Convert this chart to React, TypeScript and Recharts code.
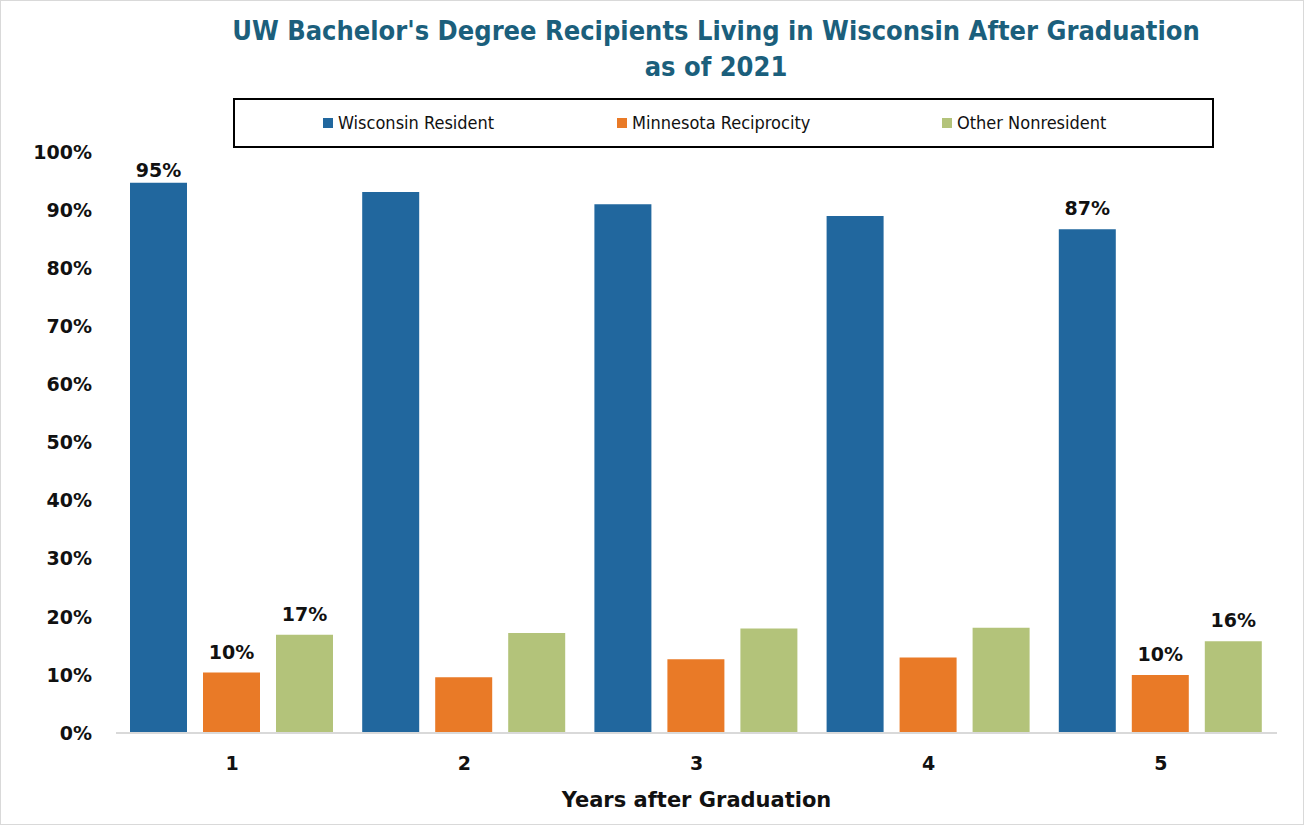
import React from "react";
import { Bar, BarChart, LabelList, Legend, XAxis, YAxis } from "recharts";

// Values, in percent.
const YEARS = ["1", "2", "3", "4", "5"];
const WI_RESIDENT = [94.7, 93.1, 91.0, 89.0, 86.7];
const MN_RECIPROCITY = [10.4, 9.6, 12.7, 13.0, 10.0];
const OTHER_NONRES = [16.9, 17.2, 18.0, 18.1, 15.8];
// Only a few bars carry a data label in the original.
const WI_LABELS = ["95%", "", "", "", "87%"];
const MN_LABELS = ["10%", "", "", "", "10%"];
const OTHER_LABELS = ["17%", "", "", "", "16%"];
const Y_TICKS = [0, 10, 20, 30, 40, 50, 60, 70, 80, 90, 100];

const SERIES = [
  { key: "wi", label: "Wisconsin Resident", color: "#21679e", labels: WI_LABELS },
  { key: "mn", label: "Minnesota Reciprocity", color: "#e97a27", labels: MN_LABELS },
  { key: "other", label: "Other Nonresident", color: "#b3c37a", labels: OTHER_LABELS },
];

const data = YEARS.map((y, i) => ({
  year: y,
  wi: WI_RESIDENT[i],
  mn: MN_RECIPROCITY[i],
  other: OTHER_NONRES[i],
}));

const FONT = "'DejaVu Sans', sans-serif";
const COND = "'DejaVu Sans Condensed', 'DejaVu Sans', sans-serif";

function makeLabel(labels: string[]) {
  return (props: any) => {
    const { x, y, width, index } = props;
    const txt = labels[index];
    if (!txt) return null;
    // labels sit a bit above the bar, but are kept inside the plot top
    const ty = Math.max(Number(y) - 14, 177);
    return (
      <text
        x={Number(x) + Number(width) / 2}
        y={ty}
        textAnchor="middle"
        fontFamily={FONT}
        fontWeight="bold"
        fontSize={19}
        fill="#111"
      >
        {txt}
      </text>
    );
  };
}

function LegendBox() {
  return (
    <div
      style={{
        width: 977,
        height: 46,
        border: "2px solid #000",
        fontFamily: COND,
        fontSize: 18,
        color: "#111",
        position: "relative",
      }}
    >
      {SERIES.map((s, i) => (
        <div
          key={s.key}
          style={{
            position: "absolute",
            left: [88, 382, 707][i],
            top: 12,
            display: "flex",
            alignItems: "center",
          }}
        >
          <span style={{ width: 10, height: 10, background: s.color, marginRight: 5, display: "inline-block" }} />
          <span>{s.label}</span>
        </div>
      ))}
    </div>
  );
}

export default function App() {
  return (
    <div
      style={{
        position: "absolute",
        left: 0,
        top: 0,
        width: 1302,
        height: 823,
        border: "1px solid #d9d9d9",
        background: "#fff",
      }}
    >
      <div
        style={{
          position: "absolute",
          left: 0,
          top: 12,
          width: 1430,
          textAlign: "center",
          fontFamily: COND,
          fontWeight: "bold",
          fontSize: 27,
          lineHeight: "36px",
          color: "#1b5f7c",
        }}
      >
        UW Bachelor's Degree Recipients Living in Wisconsin After Graduation
        <br />
        as of 2021
      </div>
      <div style={{ position: "absolute", left: -1, top: -1 }}>
        <BarChart
          width={1304}
          height={825}
          data={data}
          margin={{ top: 102, right: 27, left: 36, bottom: 0 }}
          barCategoryGap={14}
          barGap={16}
        >
          <XAxis
            dataKey="year"
            height={92}
            tickLine={false}
            tickSize={0}
            tickMargin={24}
            stroke="#d9d9d9"
            strokeWidth={2}
            tick={{ fill: "#111", fontFamily: FONT, fontWeight: "bold", fontSize: 19 }}
            label={{
              value: "Years after Graduation",
              position: "insideBottom",
              offset: 18,
              fill: "#111",
              fontFamily: FONT,
              fontWeight: "bold",
              fontSize: 21,
            }}
          />
          <YAxis
            width={80}
            domain={[0, 100]}
            ticks={Y_TICKS}
            axisLine={false}
            tickLine={false}
            tickSize={0}
            tickMargin={24}
            tickFormatter={(v) => `${v}%`}
            tick={{ fill: "#111", fontFamily: FONT, fontWeight: "bold", fontSize: 19 }}
          />
          <Legend
            verticalAlign="top"
            content={() => <LegendBox />}
            wrapperStyle={{ left: 233, top: 98, width: 981 }}
          />
          {SERIES.map((s) => (
            <Bar
              key={s.key}
              dataKey={s.key}
              name={s.label}
              fill={s.color}
              isAnimationActive={false}
            >
              <LabelList dataKey={s.key} content={makeLabel(s.labels)} />
            </Bar>
          ))}
        </BarChart>
      </div>
    </div>
  );
}
